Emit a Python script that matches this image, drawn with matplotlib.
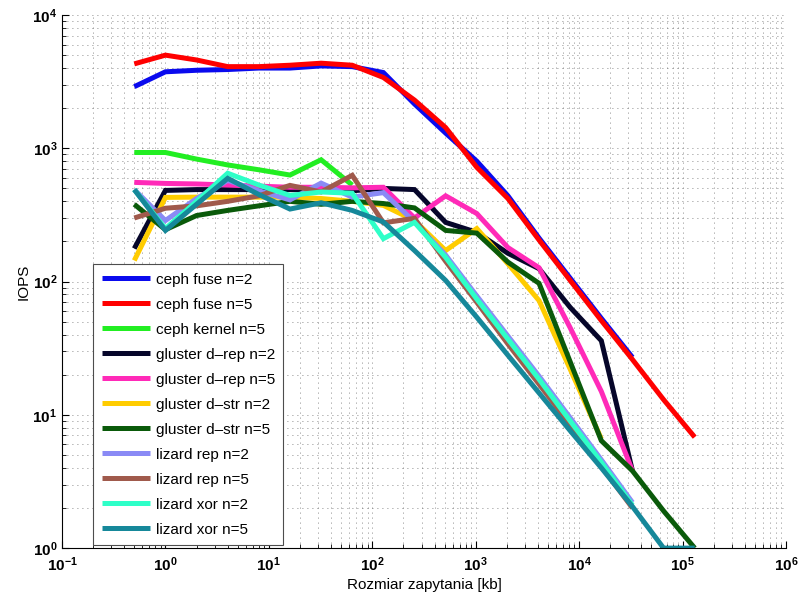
import numpy as np
import matplotlib
matplotlib.use('Agg')
import matplotlib.pyplot as plt
from matplotlib.ticker import LogLocator, NullFormatter

plt.rcParams.update({'font.size': 11, 'font.family': ['Liberation Sans', 'DejaVu Sans']})

# request sizes [kb] - doubling from 0.5 kb
SIZES = [0.5, 1, 2, 4, 8, 16, 32, 64, 128, 256, 512, 1024, 2048, 4096,
         8192, 16384, 32768, 65536, 131072]

LABELS = ['ceph fuse n=2', 'ceph fuse n=5', 'ceph kernel n=5',
          'gluster d–rep n=2', 'gluster d–rep n=5',
          'gluster d–str n=2', 'gluster d–str n=5',
          'lizard rep n=2', 'lizard rep n=5',
          'lizard xor n=2', 'lizard xor n=5']
COLORS = ['#0a0aee', '#ff0000', '#22ee22', '#06062a', '#ff2ab8',
          '#ffcc00', '#0a5a0a', '#8a8af5', '#a05a4c', '#2effc8', '#16889a']

ceph_fuse_2 = [2900, 3750, 3850, 3900, 4000, 4000, 4150, 4100, 3700, 2150,
               1300, 800, 440, 212, 106, 53, 27]
ceph_fuse_5 = [4300, 5000, 4600, 4100, 4100, 4200, 4350, 4200, 3400, 2300,
               1430, 720, 420, 205, 102, 51, 26, 13, 6.8]
ceph_kernel_5 = [930, 930, 830, 750, 690, 630, 820, 530]
gluster_drep_2 = [177, 483, 490, 490, 490, 490, 485, 480, 500, 490,
                  278, 234, 163, 125, 64, 36, 3.8]
gluster_drep_5 = [555, 545, 540, 530, 520, 510, 510, 505, 510, 300,
                  440, 324, 180, 127, 45, 15, 3.8]
gluster_dstr_2 = [144, 428, 430, 430, 430, 430, 420, 400, 373, 287,
                  171, 250, 136, 72, 22, 6.6]
gluster_dstr_5 = [380, 245, 313, 342, 370, 400, 380, 400, 385, 357,
                  242, 231, 140, 97, 25, 6.4, 3.8, 1.9, 1.0]
lizard_rep_2 = [490, 287, 420, 574, 480, 410, 548, 430, 465, 280,
                158, 78, 39, 19.5, 9.5, 4.6, 2.2]
lizard_rep_5 = [300, 355, 370, 400, 440, 527, 470, 627, 276, 298,
                142, 70, 34, 17, 8.4, 4.1, 2.0]
lizard_xor_2 = [490, 250, 400, 650, 530, 443, 470, 460, 210, 278,
                152, 74, 37, 18.5, 9.0, 4.4, 2.1]
lizard_xor_5 = [490, 242, 380, 595, 450, 350, 390, 342, 280, 171,
                102, 54, 28, 14.6, 7.6, 4.0, 2.05, 1.0, 1.0]

SERIES = [ceph_fuse_2, ceph_fuse_5, ceph_kernel_5, gluster_drep_2,
          gluster_drep_5, gluster_dstr_2, gluster_dstr_5, lizard_rep_2,
          lizard_rep_5, lizard_xor_2, lizard_xor_5]

fig = plt.figure(figsize=(8, 6.01), dpi=100)
ax = fig.add_axes([0.0775, 0.088, 0.905, 0.887])

for vals, label, color in zip(SERIES, LABELS, COLORS):
    ax.plot(SIZES[:len(vals)], vals, color=color, lw=3.6, label=label,
            solid_joinstyle='miter', solid_capstyle='butt')

ax.set_xscale('log')
ax.set_yscale('log')
ax.set_xlim(1e-1, 1e6)
ax.set_ylim(1, 1e4)

ax.xaxis.set_major_locator(LogLocator(base=10, numticks=20))
ax.xaxis.set_minor_locator(LogLocator(base=10, subs=np.arange(2, 10), numticks=100))
ax.yaxis.set_minor_locator(LogLocator(base=10, subs=np.arange(2, 10), numticks=100))
ax.xaxis.set_minor_formatter(NullFormatter())
ax.yaxis.set_minor_formatter(NullFormatter())

ax.grid(True, which='both', linestyle=(0, (1, 5)), color='0.4', lw=0.6)
ax.tick_params(which='both', direction='in', top=False, right=False)
ax.tick_params(which='major', length=5, labelsize=11)
ax.tick_params(axis='x', which='major', pad=5)
ax.tick_params(which='minor', length=3)
for lbl in ax.get_xticklabels() + ax.get_yticklabels():
    lbl.set_fontweight('bold')
ax.spines['top'].set_visible(False)
ax.spines['right'].set_visible(False)

ax.set_xlabel('Rozmiar zapytania [kb]', labelpad=3)
ax.set_ylabel('IOPS', labelpad=1)

leg = ax.legend(loc='lower left', bbox_to_anchor=(0.043, 0.0056), borderaxespad=0,
                fontsize=11, handlelength=3.2, labelspacing=0.72, borderpad=0.55,
                handletextpad=0.35, fancybox=False, framealpha=1)
leg.get_frame().set_edgecolor('0.3')
leg.get_frame().set_linewidth(0.8)
for line in leg.get_lines():
    line.set_linewidth(3.6)

fig.savefig('out.png', dpi=100)
